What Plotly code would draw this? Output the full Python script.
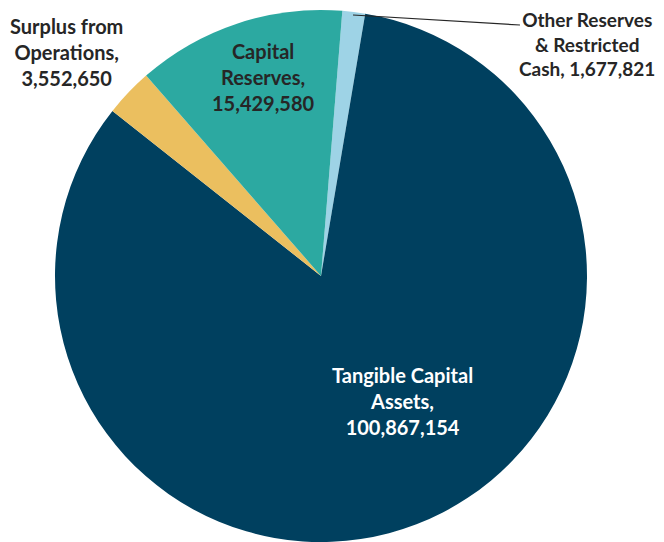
import plotly.graph_objects as go

categories = ["Other Reserves & Restricted Cash", "Tangible Capital Assets",
              "Surplus from Operations", "Capital Reserves"]
values = [1677821, 100867154, 3552650, 15429580]
colors = ["#9ED3E6", "#00405F", "#EBBF5F", "#2CA9A1"]
label_heads = ["Other Reserves<br>& Restricted<br>Cash,", "Tangible Capital<br>Assets,",
               "Surplus from<br>Operations,", "Capital<br>Reserves,"]
label_seps = [" ", "<br>", "<br>", "<br>"]
label_colors = ["#262626", "#FFFFFF", "#262626", "#262626"]
label_sizes = [19, 20, 20, 20]
# label positions in pixels (x center, y middle) relative to figure (page has 8px body margin)
OFF = 8
label_pos = [(587 - OFF, 44 - OFF), (402 - OFF, 401 - OFF), (66 - OFF, 52 - OFF), (263 - OFF, 77 - OFF)]

W, H = 656, 534
cx, cy, r = 321 - OFF, 277 - OFF, 267
fig = go.Figure(go.Pie(
    labels=categories, values=values, sort=False, direction="clockwise",
    rotation=4.6, marker=dict(colors=colors, line=dict(width=0)),
    textinfo="none", hoverinfo="label+value", showlegend=False,
    domain=dict(x=[(cx - r) / W, (cx + r) / W], y=[max(0, (H - cy - r) / H), min(1, (H - cy + r) / H)]),
))

for head, sep, col, fs, (px, py), v in zip(label_heads, label_seps, label_colors, label_sizes, label_pos, values):
    fig.add_annotation(
        x=px / W, y=1 - py / H, xref="paper", yref="paper",
        text=f"<b>{head}{sep}{v:,}</b>", showarrow=False, align="center",
        font=dict(family="Lato, Open Sans, sans-serif", size=fs, color=col),
        xanchor="center", yanchor="middle",
    )

fig.add_shape(type="line", xref="paper", yref="paper",
              x0=(353 - OFF) / W, y0=1 - (15 - OFF) / H, x1=(520 - OFF) / W, y1=1 - (25 - OFF) / H,
              line=dict(color="#262626", width=1.2))

fig.update_layout(width=W, height=H, margin=dict(l=0, r=0, t=0, b=0),
                  paper_bgcolor="white", plot_bgcolor="white")
fig.write_html("out.html")
